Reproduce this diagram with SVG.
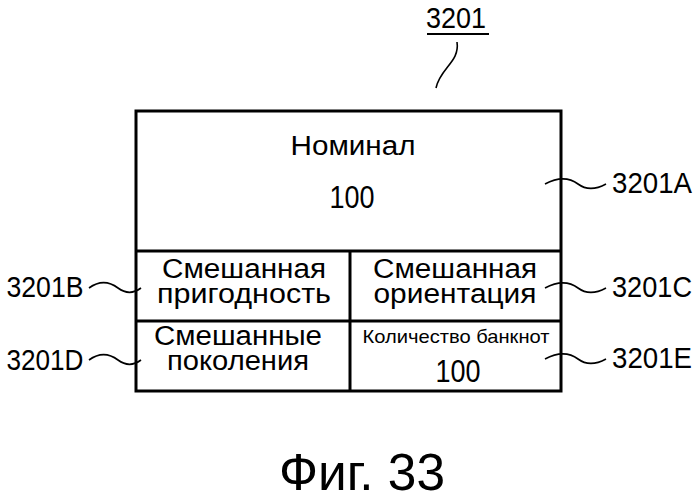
<svg xmlns="http://www.w3.org/2000/svg" width="695" height="500" viewBox="0 0 695 500">
<style>
text{font-family:"Liberation Sans",Arial,sans-serif;fill:#000;text-anchor:middle}
.b{fill:none;stroke:#000;stroke-width:3}
.l{fill:none;stroke:#000;stroke-width:1.6}
.ref{font-size:29px}
.cell{font-size:27px}
</style>
<rect width="695" height="500" fill="#fff"/>
<g id="title"><text x="456" y="28" class="ref" textLength="60" lengthAdjust="spacingAndGlyphs">3201</text><line x1="427" y1="34" x2="489" y2="34" stroke="#000" stroke-width="2"/></g>
<g id="box">
<rect x="136" y="111" width="425" height="280" class="b"/>
<line x1="136" y1="251" x2="561" y2="251" class="b"/>
<line x1="136" y1="321" x2="561" y2="321" class="b"/>
<line x1="350" y1="251" x2="350" y2="391" class="b"/>
</g>
<g id="n3201A"><text x="353" y="155" font-size="27" textLength="125" lengthAdjust="spacingAndGlyphs">Номинал</text><text x="352" y="208" font-size="31" textLength="45" lengthAdjust="spacingAndGlyphs">100</text></g>
<g id="n3201B"><text x="244" y="278" class="cell" textLength="164" lengthAdjust="spacingAndGlyphs">Смешанная</text><text x="244" y="303" class="cell" textLength="174" lengthAdjust="spacingAndGlyphs">пригодность</text></g>
<g id="n3201C"><text x="455" y="278" class="cell" textLength="164" lengthAdjust="spacingAndGlyphs">Смешанная</text><text x="455" y="303" class="cell" textLength="163" lengthAdjust="spacingAndGlyphs">ориентация</text></g>
<g id="n3201D"><text x="238" y="345" class="cell" textLength="168" lengthAdjust="spacingAndGlyphs">Смешанные</text><text x="238" y="370" class="cell" textLength="142" lengthAdjust="spacingAndGlyphs">поколения</text></g>
<g id="n3201E"><text x="456" y="343" font-size="19" textLength="187" lengthAdjust="spacingAndGlyphs">Количество банкнот</text><text x="458" y="382" font-size="31" textLength="45" lengthAdjust="spacingAndGlyphs">100</text></g>
<g id="labels" class="ref">
<text x="652" y="193" textLength="80" lengthAdjust="spacingAndGlyphs">3201A</text>
<text x="652" y="297" textLength="80" lengthAdjust="spacingAndGlyphs">3201C</text>
<text x="652" y="368" textLength="80" lengthAdjust="spacingAndGlyphs">3201E</text>
<text x="45" y="297" textLength="77" lengthAdjust="spacingAndGlyphs">3201B</text>
<text x="45" y="370" textLength="77" lengthAdjust="spacingAndGlyphs">3201D</text>
</g>
<g id="connectors">
<path class="l" d="M457 42 C460 62 440 68 436 88"/>
<path class="l" d="M545 184 C560 176 570 178 578 184 S595 190 606 184"/>
<path class="l" d="M545 288 C560 280 570 282 578 288 S595 294 606 288"/>
<path class="l" d="M545 359 C560 351 570 353 578 359 S595 365 606 359"/>
<path class="l" d="M89 288 C100 280 110 282 118 288 S133 294 141 288"/>
<path class="l" d="M89 360 C100 352 110 354 118 360 S133 366 141 360"/>
</g>
<text x="362" y="490" font-size="52" textLength="166" lengthAdjust="spacingAndGlyphs">Фиг. 33</text>
</svg>
